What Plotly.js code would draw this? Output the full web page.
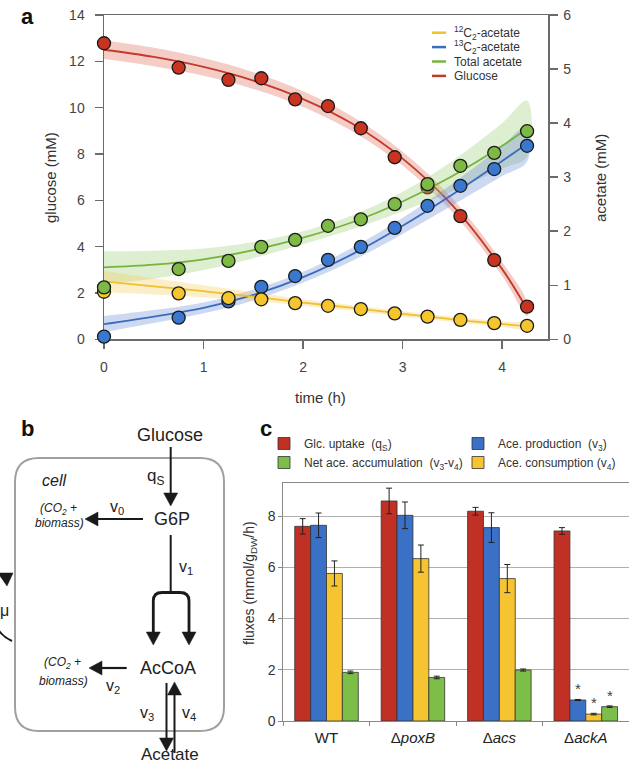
<!DOCTYPE html>
<html><head><meta charset="utf-8">
<script src="https://cdn.plot.ly/plotly-3.0.1.min.js"></script>
<style>html,body{margin:0;padding:0;background:#fff}</style>
</head><body><div id="chart" style="width:629px;height:766px"></div>
<script>
// ---------- Panel a : measured points ----------
const timePts    = [0, 0.75, 1.25, 1.58, 1.92, 2.25, 2.58, 2.92, 3.25, 3.58, 3.92, 4.25];
const glucosePts = [12.78, 11.73, 11.2, 11.27, 10.36, 10.07, 9.11, 7.86, 6.56, 5.32, 3.42, 1.41];
const totalAcePts= [0.96, 1.30, 1.45, 1.71, 1.84, 2.10, 2.22, 2.50, 2.87, 3.21, 3.45, 3.85];
const c13AcePts  = [0.05, 0.40, 0.70, 0.97, 1.17, 1.47, 1.71, 2.06, 2.47, 2.84, 3.15, 3.58];
const c12AcePts  = [0.88, 0.85, 0.76, 0.74, 0.67, 0.62, 0.56, 0.48, 0.42, 0.36, 0.30, 0.25];
// ---------- Panel a : fitted curves and confidence half-widths ----------
const fitTime     = [0, 0.5, 1, 1.5, 2, 2.5, 3, 3.5, 4, 4.25];
const glucoseFit  = [12.5, 12.19, 11.76, 11.17, 10.37, 9.29, 7.80, 5.78, 3.03, 1.30];
const glucoseCI   = [0.40, 0.40, 0.38, 0.36, 0.34, 0.32, 0.30, 0.30, 0.30, 0.30];
const totalAceFit = [1.33, 1.38, 1.48, 1.65, 1.88, 2.17, 2.55, 3.02, 3.58, 3.90];
const totalAceCI  = [0.30, 0.26, 0.20, 0.15, 0.12, 0.13, 0.18, 0.28, 0.42, 0.52];
const c13AceFit   = [0.28, 0.42, 0.58, 0.82, 1.15, 1.58, 2.10, 2.68, 3.30, 3.62];
const c13AceCI    = [0.15, 0.12, 0.10, 0.10, 0.10, 0.12, 0.15, 0.20, 0.28, 0.33];
const c12AceFit   = [1.07, 0.98, 0.89, 0.79, 0.68, 0.58, 0.47, 0.37, 0.28, 0.24];
const c12AceCI    = [0.20, 0.15, 0.11, 0.08, 0.06, 0.05, 0.05, 0.05, 0.05, 0.05];
const timeTicks   = [0, 1, 2, 3, 4];
const glucoseTicks= [0, 2, 4, 6, 8, 10, 12, 14];
const acetateTicks= [0, 1, 2, 3, 4, 5, 6];
const legendA = ['<sup>12</sup>C<sub>2</sub>-acetate', '<sup>13</sup>C<sub>2</sub>-acetate', 'Total acetate', 'Glucose'];

// ---------- Panel c : fluxes ----------
const strains      = ['WT', 'ΔpoxB', 'Δacs', 'ΔackA'];
const strainLabels = ['WT', 'Δ<i>poxB</i>', 'Δ<i>acs</i>', 'Δ<i>ackA</i>'];
const glcUptake    = [7.60, 8.59, 8.19, 7.42];
const glcUptakeErr = [0.30, 0.50, 0.15, 0.13];
const aceProd      = [7.64, 8.03, 7.55, 0.82];
const aceProdErr   = [0.48, 0.52, 0.58, 0.02];
const aceCons      = [5.76, 6.34, 5.56, 0.27];
const aceConsErr   = [0.49, 0.53, 0.55, 0.03];
const netAce       = [1.90, 1.70, 1.99, 0.56];
const netAceErr    = [0.05, 0.05, 0.04, 0.03];
const fluxTicks    = [0, 2, 4, 6, 8];

// ---------- figure geometry ----------
const W = 629, H = 766;
const FONT = 'Liberation Sans, Arial, sans-serif';
const X = px => px / W;
const Y = py => 1 - py / H;

const C = {
  red: '#c8341f', blue: '#3a78cf', green: '#7cba45', yellow: '#f5c52e',
  redL: '#c43a2a', blueL: '#3b6cc0', greenL: '#78b33e', yellowL: '#efc12b',
  redB: 'rgba(220,112,92,0.35)', blueB: 'rgba(100,135,210,0.32)', greenB: 'rgba(160,205,120,0.35)', yellowB: 'rgba(245,205,100,0.35)',
  barRed: '#c03024', barBlue: '#3a70c6', barYellow: '#f6c430', barGreen: '#7cbe48'
};

function band(x, fit, ci, color, yaxis) {
  const up = fit.map((v, i) => v + ci[i]);
  const lo = fit.map((v, i) => v - ci[i]);
  return {x: x.concat(x.slice().reverse()), y: up.concat(lo.slice().reverse()), type: 'scatter', mode: 'lines',
    fill: 'toself', fillcolor: color, line: {width: 0, shape: 'spline'}, hoverinfo: 'skip', showlegend: false, yaxis: yaxis};
}
function fitLine(x, y, color, yaxis) {
  return {x: x, y: y, type: 'scatter', mode: 'lines', line: {color: color, width: 1.8, shape: 'spline'}, showlegend: false, yaxis: yaxis};
}
function pts(x, y, color, yaxis) {
  return {x: x, y: y, type: 'scatter', mode: 'markers', cliponaxis: false,
    marker: {size: 13, color: color, line: {color: '#1a1a1a', width: 1.3}}, showlegend: false, yaxis: yaxis};
}

const traces = [
  band(fitTime, glucoseFit, glucoseCI, C.redB, 'y'),
  fitLine(fitTime, glucoseFit, C.redL, 'y'),
  pts(timePts, glucosePts, C.red, 'y'),
  band(fitTime, totalAceFit, totalAceCI, C.greenB, 'y2'),
  band(fitTime, c13AceFit, c13AceCI, C.blueB, 'y2'),
  band(fitTime, c12AceFit, c12AceCI, C.yellowB, 'y2'),
  fitLine(fitTime, totalAceFit, C.greenL, 'y2'),
  fitLine(fitTime, c13AceFit, C.blueL, 'y2'),
  fitLine(fitTime, c12AceFit, C.yellowL, 'y2'),
  pts(timePts, c13AcePts, C.blue, 'y2'),
  pts(timePts, c12AcePts, C.yellow, 'y2'),
  pts(timePts, totalAcePts, C.green, 'y2')
];

function bar(name, y, err, color, legend, rank) {
  return {type: 'bar', name: name, x: strains, y: y, xaxis: 'x2', yaxis: 'y3', legend: legend, legendrank: rank,
    marker: {color: color, line: {color: '#333', width: 0.8}},
    error_y: {type: 'data', array: err, visible: true, color: '#222', thickness: 1, width: 3}};
}
traces.push(
  bar('Glc. uptake\u00a0\u00a0(q<sub>S</sub>)', glcUptake, glcUptakeErr, C.barRed, 'legend', 1),
  bar('Ace. production\u00a0\u00a0(v<sub>3</sub>)', aceProd, aceProdErr, C.barBlue, 'legend2', 1),
  bar('Ace. consumption (v<sub>4</sub>)', aceCons, aceConsErr, C.barYellow, 'legend2', 2),
  bar('Net ace. accumulation\u00a0\u00a0(v<sub>3</sub>-v<sub>4</sub>)', netAce, netAceErr, C.barGreen, 'legend', 2)
);

// ---------- annotations and shapes ----------
const ann = [];
const shapes = [];
function txt(t, x, y, size, opts) {
  ann.push(Object.assign({text: t, x: X(x), y: Y(y), xref: 'paper', yref: 'paper', showarrow: false,
    xanchor: 'center', yanchor: 'middle', font: {family: FONT, size: size, color: '#222'}}, opts || {}));
}
// panel letters
txt('<b>a</b>', 27, 17, 22, {font: {family: FONT, size: 22, color: '#111'}});
txt('<b>b</b>', 27, 428, 22, {font: {family: FONT, size: 22, color: '#111'}});
txt('<b>c</b>', 266, 428, 22, {font: {family: FONT, size: 22, color: '#111'}});
// axis titles
txt('glucose (mM)', 51, 178, 15, {textangle: -90, font: {family: FONT, size: 15, color: '#333'}});
txt('acetate (mM)', 601, 178, 15, {textangle: -90, font: {family: FONT, size: 15, color: '#333'}});
txt('time (h)', 320, 397, 15, {font: {family: FONT, size: 15, color: '#333'}});
txt('fluxes (mmol/g<sub>DW</sub>/h)', 250, 583, 14, {textangle: -90, font: {family: FONT, size: 14, color: '#333'}});

// panel a legend (drawn by hand for tight spacing)
const legColors = [C.yellowL, C.blueL, C.greenL, C.redL];
legendA.forEach((t, i) => {
  const yy = 32.7 + i * 14.4;
  shapes.push({type: 'line', xref: 'paper', yref: 'paper', x0: X(432), x1: X(446), y0: Y(yy), y1: Y(yy),
    line: {color: legColors[i], width: 2.5}});
  txt(t, 452, yy, 12, {xanchor: 'left', font: {family: FONT, size: 12, color: '#333'}});
});

// asterisks over ΔackA acetate bars
const barW = (1 - 0.265) / 4;
[[aceProd, aceProdErr, 1], [aceCons, aceConsErr, 2], [netAce, netAceErr, 3]].forEach(([v, e, k]) => {
  const i = 3;
  ann.push({text: '*', x: i + (k - 1.5) * barW, y: v[i] + e[i], xref: 'x2', yref: 'y3', showarrow: false,
    xanchor: 'center', yanchor: 'bottom', yshift: 0, font: {family: FONT, size: 15, color: '#444'}});
});

// ---------- panel b diagram ----------
const INK = '#1a1a1a';
function seg(x0, y0, x1, y1, w) {
  shapes.push({type: 'line', xref: 'paper', yref: 'paper', x0: X(x0), y0: Y(y0), x1: X(x1), y1: Y(y1),
    line: {color: INK, width: w}});
}
function head(tx, ty, dx, dy, L, Hh) {
  const bx = tx - dx * L, by = ty - dy * L, nx = -dy, ny = dx;
  const p = `M ${X(tx)},${Y(ty)} L ${X(bx + nx * Hh)},${Y(by + ny * Hh)} L ${X(bx - nx * Hh)},${Y(by - ny * Hh)} Z`;
  shapes.push({type: 'path', xref: 'paper', yref: 'paper', path: p, fillcolor: INK, line: {color: INK, width: 0.5}});
}
function arrow(x0, y0, x1, y1, w) {
  const len = Math.hypot(x1 - x0, y1 - y0), dx = (x1 - x0) / len, dy = (y1 - y0) / len;
  const L = 13;
  seg(x0, y0, x1 - dx * (L - 2), y1 - dy * (L - 2), w);
  head(x1, y1, dx, dy, L, 7);
}
// cell
(function () {
  const l = 15, t = 458, r = 224, b = 731, rad = 24;
  const p = `M ${X(l + rad)},${Y(t)} L ${X(r - rad)},${Y(t)} Q ${X(r)},${Y(t)} ${X(r)},${Y(t + rad)} L ${X(r)},${Y(b - rad)} Q ${X(r)},${Y(b)} ${X(r - rad)},${Y(b)} L ${X(l + rad)},${Y(b)} Q ${X(l)},${Y(b)} ${X(l)},${Y(b - rad)} L ${X(l)},${Y(t + rad)} Q ${X(l)},${Y(t)} ${X(l + rad)},${Y(t)} Z`;
  shapes.push({type: 'path', xref: 'paper', yref: 'paper', path: p, line: {color: '#a0a0a0', width: 2}, layer: 'below'});
})();
arrow(170.7, 447, 170.7, 506, 2);          // glucose -> G6P
arrow(143, 519, 85, 519, 2.2);             // v0
seg(170.7, 535, 170.7, 593, 2);            // v1 stem
(function () {
  const p = `M ${X(153.3)},${Y(634)} L ${X(153.3)},${Y(601)} Q ${X(153.3)},${Y(592.5)} ${X(162)},${Y(592.5)} L ${X(180)},${Y(592.5)} Q ${X(189)},${Y(592.5)} ${X(189)},${Y(601)} L ${X(189)},${Y(634)}`;
  shapes.push({type: 'path', xref: 'paper', yref: 'paper', path: p, line: {color: INK, width: 2.8}});
})();
head(153.3, 645, 0, 1, 13, 7);
head(189, 645, 0, 1, 13, 7);
arrow(126.7, 668, 89, 668, 2.2);           // v2
arrow(166.5, 683, 166.5, 751, 2);          // v3
arrow(174.5, 753, 174.5, 682, 2);          // v4
// growth arrow (mu), mostly outside the frame
shapes.push({type: 'path', xref: 'paper', yref: 'paper',
  path: `M ${X(12)},${Y(641)} Q ${X(0)},${Y(636)} ${X(-6)},${Y(622)}`, line: {color: INK, width: 2}});
shapes.push({type: 'path', xref: 'paper', yref: 'paper',
  path: `M ${X(-2)},${Y(573)} L ${X(13)},${Y(573)} L ${X(7)},${Y(586)} Z`, fillcolor: INK, line: {color: INK, width: 0.5}});

txt('Glucose', 170, 435, 18);
txt('q<sub>S</sub>', 155, 477, 17);
txt('<i>cell</i>', 54, 480, 16);
txt('G6P', 172, 519, 18);
txt('v<sub>0</sub>', 117, 507, 16);
txt('<i>(CO<sub>2</sub> +</i>', 58, 509, 12);
txt('<i>biomass)</i>', 59, 523, 12);
txt('v<sub>1</sub>', 186, 567, 16);
txt('AcCoA', 167.5, 668, 18);
txt('<i>(CO<sub>2</sub> +</i>', 62, 663, 12);
txt('<i>biomass)</i>', 63, 681, 12);
txt('v<sub>2</sub>', 113, 686, 16);
txt('v<sub>3</sub>', 147, 713, 16);
txt('v<sub>4</sub>', 189, 713, 16);
txt('Acetate', 170, 766, 17, {yanchor: 'bottom'});
txt('μ', 4, 610, 16);

// ---------- layout ----------
const axA = {showline: true, linecolor: '#6b6b6b', linewidth: 1.5, ticks: 'outside', ticklen: 8, tickwidth: 1.5,
  tickcolor: '#6b6b6b', showgrid: false, zeroline: false, layer: 'below traces',
  tickfont: {family: FONT, size: 14, color: '#444'}};
const layout = {
  width: W, height: H, margin: {l: 0, r: 0, t: 0, b: 0},
  paper_bgcolor: '#fff', plot_bgcolor: 'rgba(0,0,0,0)',
  font: {family: FONT, color: '#333'},
  barmode: 'group', bargap: 0.265, bargroupgap: 0,
  xaxis: Object.assign({}, axA, {domain: [X(104), X(548)], range: [0, 4.46], tickvals: timeTicks, mirror: true, anchor: 'y',
    ticklabelstandoff: 6}),
  yaxis: Object.assign({}, axA, {domain: [Y(339.3), Y(15)], range: [0, 14], tickvals: glucoseTicks, anchor: 'x',
    ticklabelstandoff: 7}),
  yaxis2: Object.assign({}, axA, {overlaying: 'y', side: 'right', range: [0, 6], tickvals: acetateTicks, anchor: 'x',
    ticklabelstandoff: 3}),
  xaxis2: {domain: [X(283.3), 1], anchor: 'y3', type: 'category', categoryorder: 'array', categoryarray: strains,
    tickvals: strains, ticktext: strainLabels, tickson: 'boundaries', ticks: 'outside', ticklen: 4, tickcolor: '#888',
    showline: true, linecolor: '#888', linewidth: 1, mirror: true, showgrid: false, zeroline: false,
    ticklabelstandoff: 3, tickfont: {family: FONT, size: 15, color: '#222'}},
  yaxis3: {domain: [Y(721), Y(483.3)], anchor: 'x2', range: [0, 9.28], tickvals: fluxTicks, ticks: 'outside', ticklen: 4,
    tickcolor: '#888', showline: true, linecolor: '#888', linewidth: 1, showgrid: true, gridcolor: '#b0b0b0', gridwidth: 1,
    zeroline: false, tickfont: {family: FONT, size: 14, color: '#333'}},
  legend: {x: X(264), y: Y(429), xanchor: 'left', yanchor: 'top', orientation: 'v', bgcolor: 'rgba(0,0,0,0)',
    itemwidth: 30, font: {family: FONT, size: 12, color: '#333'}, traceorder: 'normal'},
  legend2: {x: X(458), y: Y(429), xanchor: 'left', yanchor: 'top', orientation: 'v', bgcolor: 'rgba(0,0,0,0)',
    itemwidth: 30, font: {family: FONT, size: 12, color: '#333'}, traceorder: 'normal'},
  annotations: ann,
  shapes: shapes
};
Plotly.newPlot('chart', traces, layout, {staticPlot: true, displayModeBar: false});
</script></body></html>
